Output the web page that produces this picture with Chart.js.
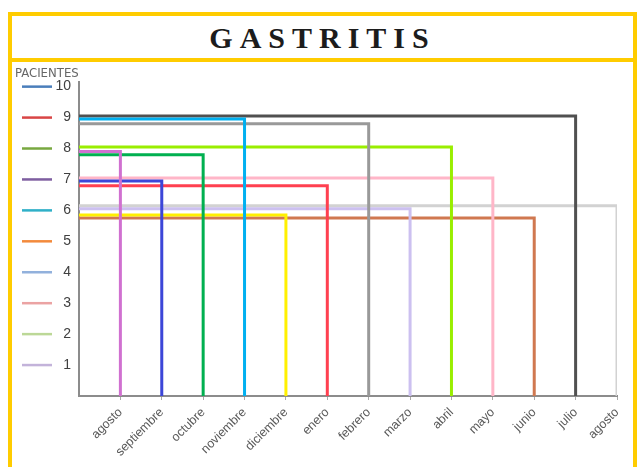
<!DOCTYPE html>
<html lang="es">
<head>
  <meta charset="UTF-8">
  <title>Gastritis</title>
  <style>
    body {
      margin: 0;
      background: #fff;
      width: 637px;
      height: 467px;
      overflow: hidden;
      position: relative;
    }
    .marco {
      position: absolute;
      left: 8px;
      top: 12px;
      width: 629px;
      height: 520px;
      box-sizing: border-box;
      border: 4px solid #FFCC00;
    }
    .titulo {
      position: absolute;
      left: 12px;
      top: 16px;
      width: 621px;
      height: 42px;
      border-bottom: 4px solid #FFCC00;
      text-align: center;
      line-height: 44px;
      font-family: 'Liberation Serif', serif;
      font-weight: bold;
      font-size: 30px;
      letter-spacing: 7px;
      color: #1c1c1c;
    }
    #grafico {
      position: absolute;
      left: 0;
      top: 0;
    }
  </style>
</head>
<body>
  <div class="marco"></div>
  <div class="titulo">GASTRITIS</div>
  <canvas id="grafico" width="637" height="467"></canvas>

  <script src="https://cdn.jsdelivr.net/npm/chart.js"></script>
  <script>
    // meses (eje x) y pacientes de cada mes
    const meses = ['agosto', 'septiembre', 'octubre', 'noviembre', 'diciembre', 'enero',
      'febrero', 'marzo', 'abril', 'mayo', 'junio', 'julio', 'agosto'];
    const pacientes = [7.9, 6.95, 7.8, 8.95, 5.85, 6.8, 8.8, 6.05, 8.05, 7.05, 5.75, 9.05, 6.15];
    const colores = ['#D070D0', '#3C46D8', '#00B050', '#00B0F0', '#FFF000', '#FF4050',
      '#999999', '#CCC0F0', '#99EE00', '#FFB6C8', '#D07850', '#505050', '#D2D2D2'];

    // etiquetas del eje y, con su rayita de color
    const ticksY = [1, 2, 3, 4, 5, 6, 7, 8, 9, 10];
    const coloresY = ['#C3B3DA', '#BCD897', '#EBA3A3', '#92B1DC', '#F38A3C',
      '#2FB0C8', '#7E5EA0', '#78A840', '#D94545', '#4A7EBB'];

    const datasets = pacientes.map((v, i) => ({
      label: meses[i],
      data: [{x: 0, y: v}, {x: i + 1, y: v}, {x: i + 1, y: 0}],
      borderColor: colores[i],
      borderWidth: 3,
      borderJoinStyle: 'miter',
      pointRadius: 0,
      tension: 0,
      fill: false
    }));

    const rayitas = {
      id: 'rayitas',
      afterDraw(chart) {
        const ctx = chart.ctx;
        const y = chart.scales.y;
        ctx.save();
        ticksY.forEach((t, i) => {
          const py = y.getPixelForValue(t);
          ctx.strokeStyle = coloresY[i];
          ctx.lineWidth = 2.5;
          ctx.beginPath();
          ctx.moveTo(22, py);
          ctx.lineTo(52, py);
          ctx.stroke();
        });
        ctx.fillStyle = '#666';
        ctx.font = "13px 'Liberation Sans Narrow', 'DejaVu Sans Condensed', sans-serif";
        ctx.textBaseline = 'alphabetic';
        ctx.fillText('PACIENTES', 15, 77);
        ctx.restore();
      }
    };

    new Chart(document.getElementById('grafico'), {
      type: 'line',
      data: { datasets: datasets },
      plugins: [rayitas],
      options: {
        responsive: false,
        animation: false,
        layout: { padding: { top: 82, right: 20, left: 0, bottom: 0 } },
        plugins: {
          legend: { display: false },
          tooltip: { enabled: false }
        },
        scales: {
          x: {
            type: 'linear',
            min: 0,
            max: 13,
            afterBuildTicks: s => { s.ticks = meses.map((m, i) => ({ value: i + 1 })); },
            afterFit: s => { s.height = 71; },
            grid: { drawOnChartArea: false, drawTicks: true, tickLength: 4, color: '#aaa' },
            border: { color: '#8c8c8c', width: 2 },
            ticks: {
              autoSkip: false,
              minRotation: 45,
              maxRotation: 45,
              padding: 5,
              color: '#595959',
              font: { family: "'Liberation Sans', Arial, sans-serif", size: 12.5 },
              callback: v => meses[v - 1]
            }
          },
          y: {
            min: 0,
            max: 10.15,
            afterBuildTicks: s => { s.ticks = ticksY.map(v => ({ value: v })); },
            afterFit: s => { s.width = 79; },
            grid: { display: false, drawTicks: false },
            border: { color: '#8c8c8c', width: 2 },
            ticks: {
              padding: 8,
              color: '#404040',
              font: { family: "'Liberation Sans', Arial, sans-serif", size: 14 }
            }
          }
        }
      }
    });
  </script>
</body>
</html>
